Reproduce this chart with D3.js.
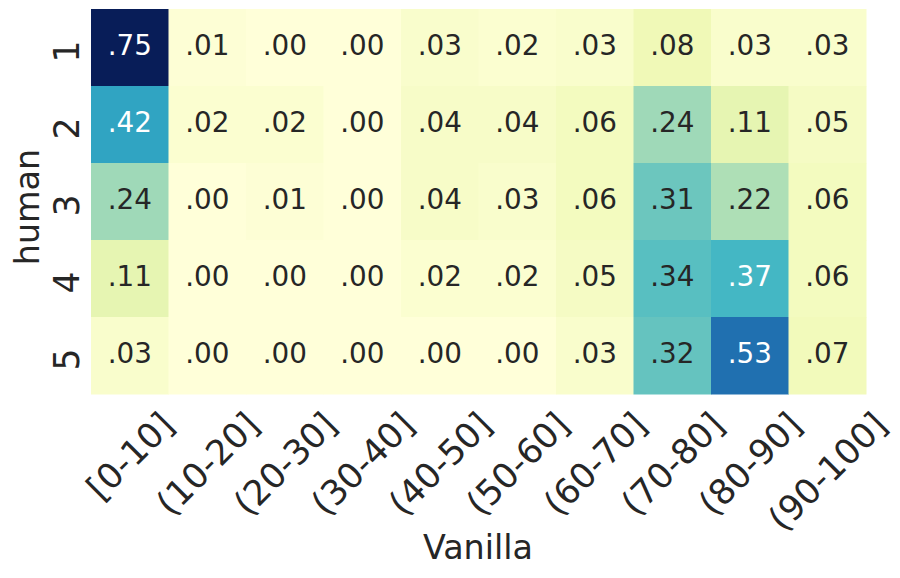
<!DOCTYPE html>
<html>
<head>
<meta charset="utf-8">
<script src="https://cdn.jsdelivr.net/npm/d3@7"></script>
<style>
  html, body { margin: 0; padding: 0; background: #fff; }
  text { font-family: "DejaVu Sans", sans-serif; }
</style>
</head>
<body>
<svg id="chart" width="900" height="578"></svg>
<script>
// ---- data ----
const columns = ["[0-10]", "(10-20]", "(20-30]", "(30-40]", "(40-50]", "(50-60]", "(60-70]", "(70-80]", "(80-90]", "(90-100]"];
const rows = ["1", "2", "3", "4", "5"];
const row1 = [0.75, 0.01, 0.00, 0.00, 0.03, 0.02, 0.03, 0.08, 0.03, 0.03];
const row2 = [0.42, 0.02, 0.02, 0.00, 0.04, 0.04, 0.06, 0.24, 0.11, 0.05];
const row3 = [0.24, 0.00, 0.01, 0.00, 0.04, 0.03, 0.06, 0.31, 0.22, 0.06];
const row4 = [0.11, 0.00, 0.00, 0.00, 0.02, 0.02, 0.05, 0.34, 0.37, 0.06];
const row5 = [0.03, 0.00, 0.00, 0.00, 0.00, 0.00, 0.03, 0.32, 0.53, 0.07];
const values = [row1, row2, row3, row4, row5];
const xLabel = "Vanilla";
const yLabel = "human";

// matplotlib YlGnBu (linear segmented through the 9 ColorBrewer stops)
const ylgnbu = ["#ffffd9", "#edf8b1", "#c7e9b4", "#7fcdbb", "#41b6c4", "#1d91c0", "#225ea8", "#253494", "#081d58"];

const cells = [];
values.forEach((r, i) => r.forEach((v, j) => cells.push({ row: rows[i], col: columns[j], v })));

const svg = d3.select("#chart");
const mLeft = 91, mRight = 866, mTop = 9, mBottom = 394;

const x = d3.scaleBand().domain(columns).range([mLeft, mRight]).padding(0);
const y = d3.scaleBand().domain(rows).range([mTop, mBottom]).padding(0);
const vmax = d3.max(cells, d => d.v);
const color = d3.scaleLinear()
  .domain(d3.range(ylgnbu.length).map(i => i / (ylgnbu.length - 1) * vmax))
  .range(ylgnbu)
  .interpolate(d3.interpolateRgb)
  .clamp(true);

function luminance(c) {
  const rgb = d3.rgb(c);
  const f = u => { u /= 255; return u <= 0.03928 ? u / 12.92 : Math.pow((u + 0.055) / 1.055, 2.4); };
  return 0.2126 * f(rgb.r) + 0.7152 * f(rgb.g) + 0.0722 * f(rgb.b);
}
const fmt = v => d3.format(".2f")(v).replace(/^0/, "");

svg.append("g").selectAll("rect").data(cells).join("rect")
  .attr("x", d => x(d.col))
  .attr("y", d => y(d.row))
  .attr("width", x.bandwidth() + 0.5)
  .attr("height", y.bandwidth() + 0.5)
  .attr("fill", d => color(d.v));

svg.append("g").selectAll("text").data(cells).join("text")
  .attr("x", d => x(d.col) + x.bandwidth() / 2)
  .attr("y", d => y(d.row) + y.bandwidth() / 2 + 7.5)
  .attr("text-anchor", "middle")
  .attr("font-size", 27.8)
  .attr("fill", d => luminance(color(d.v)) > 0.408 ? "#262626" : "#ffffff")
  .text(d => fmt(d.v));

// y tick labels
svg.append("g").selectAll("text").data(rows).join("text")
  .attr("transform", d => `translate(78.5,${y(d) + y.bandwidth() / 2 + 4}) rotate(-90)`)
  .attr("text-anchor", "middle")
  .attr("font-size", 34.7)
  .attr("fill", "#262626")
  .text(d => d);

// x tick labels (rotated 45, centered on column, top aligned)
const xt = svg.append("g").selectAll("text").data(columns).join("text")
  .attr("text-anchor", "middle")
  .attr("font-size", 34.7)
  .attr("fill", "#262626")
  .attr("dy", "0.36em")
  .text(d => d);
xt.each(function(d) {
  const f = 34.7;
  const w = this.getComputedTextLength();
  const L = w - 0.15 * f, H = 0.88 * f;
  const cy = 409.3 + (L + H) / (2 * Math.SQRT2);
  const cx = x(d) + x.bandwidth() / 2;
  d3.select(this).attr("transform", `translate(${cx},${cy}) rotate(-45)`);
});

// axis labels
svg.append("text")
  .attr("x", 478)
  .attr("y", 559)
  .attr("text-anchor", "middle")
  .attr("font-size", 33.4)
  .attr("fill", "#262626")
  .text(xLabel);

svg.append("text")
  .attr("transform", `translate(39.3,207) rotate(-90)`)
  .attr("text-anchor", "middle")
  .attr("font-size", 33.4)
  .attr("fill", "#262626")
  .text(yLabel);
</script>
</body>
</html>
